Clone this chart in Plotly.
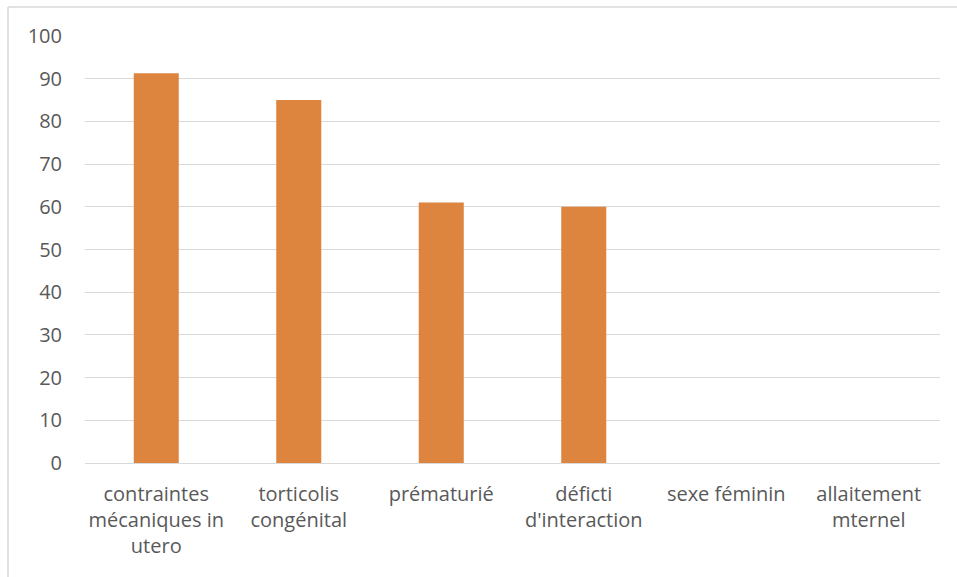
import plotly.graph_objects as go

categories = ["contraintes<br>mécaniques in<br>utero", "torticolis<br>congénital", "prématurié",
              "déficti<br>d'interaction", "sexe féminin", "allaitement<br>mternel"]
values = [91.3, 85.0, 61.0, 60.0, 0, 0]
y_ticks = [0, 10, 20, 30, 40, 50, 60, 70, 80, 90, 100]

W, H = 957, 577
ml, mr, mt, mb = 85, 17, 36, 114
pw, ph = W - ml - mr, H - mt - mb

fig = go.Figure(go.Bar(x=categories, y=values, marker_color="#dd843f",
                       marker_line_width=0, width=0.316))

font = dict(family="'Open Sans', Lato, sans-serif", size=20, color="#595959")
fig.update_layout(
    width=W, height=H, margin=dict(l=ml, r=mr, t=mt, b=mb),
    paper_bgcolor="white", plot_bgcolor="white", font=font,
    showlegend=False, bargap=0.68,
    xaxis=dict(showgrid=False, showline=True, linecolor="#d9d9d9", linewidth=1,
               ticks="", tickangle=0, tickfont=font, ticklabelstandoff=13),
    yaxis=dict(range=[0, 100], tickvals=y_ticks, showgrid=True, gridcolor="#d9d9d9",
               gridwidth=1, zeroline=False, showline=False, ticks="", tickfont=font,
               ticklabelstandoff=22),
)
bx = (8 - ml) / pw
by = 1 + (mt - 7) / ph
fig.add_shape(type="line", xref="paper", yref="paper", x0=bx, x1=1.2, y0=by, y1=by,
              line=dict(color="#d9d9d9", width=1.5))
fig.add_shape(type="line", xref="paper", yref="paper", x0=bx, x1=bx, y0=by, y1=-0.5,
              line=dict(color="#d9d9d9", width=1.5))
fig.write_html("out.html")
